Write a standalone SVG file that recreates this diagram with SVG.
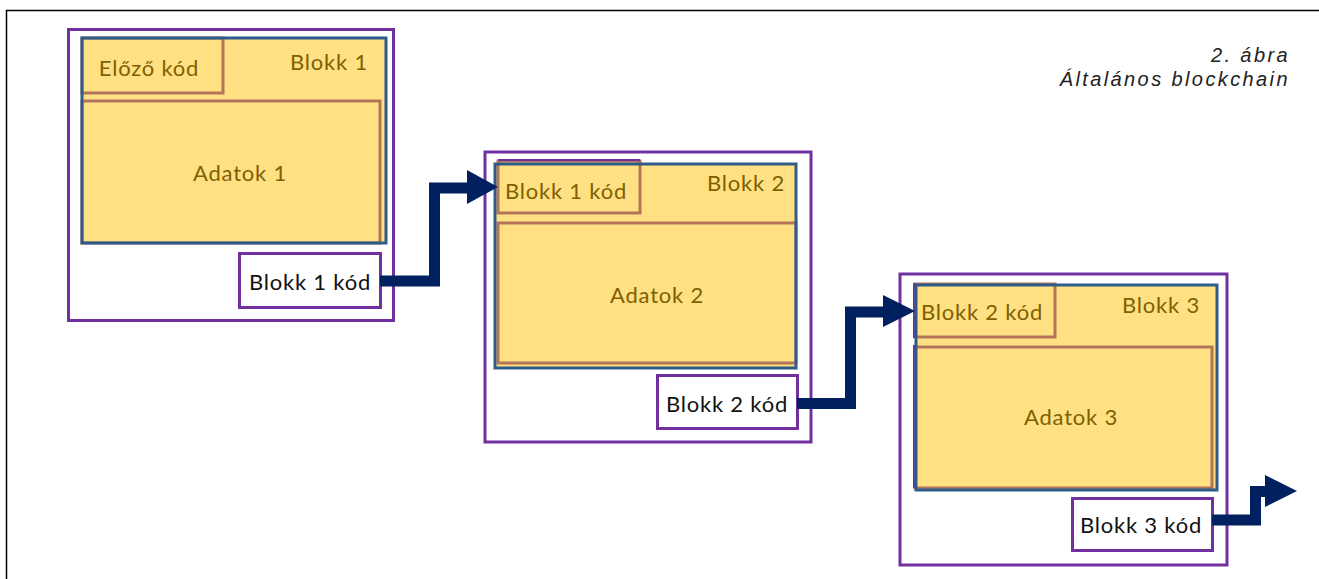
<svg xmlns="http://www.w3.org/2000/svg" width="1319" height="579" viewBox="0 0 1319 579">
<style>
.frame{fill:none;stroke:#000;stroke-width:1.5}
.outer{fill:#fff;stroke:#7030A0;stroke-width:3}
.blue{fill:#FFE083;stroke:none}
.blueline{fill:none;stroke:#2E5C8A;stroke-width:3}
.brown{fill:#FFE083;stroke:#B5745A;stroke-width:3}
.code{fill:#fff;stroke:#7030A0;stroke-width:3}
.t{font-family:Lato,"Open Sans",sans-serif;font-size:22px;letter-spacing:0.8px;fill:#7F6000}
.k{font-family:Lato,"Open Sans",sans-serif;font-size:22px;letter-spacing:0.8px;fill:#111}
.title{font-family:"Liberation Sans",Arial,sans-serif;font-style:italic;font-size:20px;fill:#222;letter-spacing:2.4px}
.conn{fill:none;stroke:#002060;stroke-width:11;stroke-linejoin:miter}
.head{fill:#002060}
</style>
<path class="frame" d="M6.5 579 V10.5 H1319"/>
<g id="title">
<text class="title" x="1290" y="62" text-anchor="end">2. ábra</text>
<text class="title" x="1290" y="86" text-anchor="end">Általános blockchain</text>
</g>
<g id="block1">
<rect class="outer" x="68.5" y="29.5" width="325" height="291"/>
<rect class="blue" x="82" y="38" width="304" height="205"/>
<rect class="brown" x="82" y="101" width="298" height="142"/>
<rect class="brown" x="82" y="38" width="141" height="55"/>
<rect class="blueline" x="82" y="38" width="304" height="205"/>
<text class="t" x="149" y="76" text-anchor="middle">Előző kód</text>
<text class="t" x="368" y="70" text-anchor="end">Blokk 1</text>
<text class="t" x="240" y="181" text-anchor="middle">Adatok 1</text>
</g>
<g id="code1">
<rect class="code" x="239.5" y="253.5" width="141" height="54"/>
<text class="k" x="310" y="290" text-anchor="middle">Blokk 1 kód</text>
</g>
<g id="block2">
<rect class="outer" x="485" y="152" width="326" height="290"/>
<rect class="blue" x="495" y="164" width="301" height="204"/>
<rect class="brown" x="498" y="223" width="298" height="140"/>
<rect class="brown" x="498" y="161" width="142" height="52"/>
<line x1="498" y1="160" x2="640" y2="160" stroke="#7030A0" stroke-width="2"/>
<rect class="blueline" x="495" y="164" width="301" height="204"/>
<text class="t" x="566" y="199" text-anchor="middle">Blokk 1 kód</text>
<text class="t" x="785" y="191" text-anchor="end">Blokk 2</text>
<text class="t" x="657" y="303" text-anchor="middle">Adatok 2</text>
</g>
<g id="code2">
<rect class="code" x="657.5" y="375.5" width="140" height="53"/>
<text class="k" x="727" y="412" text-anchor="middle">Blokk 2 kód</text>
</g>
<g id="block3">
<rect class="outer" x="900" y="274" width="327" height="291"/>
<rect class="blue" x="916" y="285" width="301" height="205"/>
<rect class="brown" x="915" y="347" width="297" height="141"/>
<rect class="brown" x="915" y="284" width="140" height="53"/>
<line x1="914" y1="283" x2="914" y2="338" stroke="#7030A0" stroke-width="2"/>
<line x1="914" y1="345" x2="914" y2="488" stroke="#7030A0" stroke-width="2"/>
<rect class="blueline" x="916" y="285" width="301" height="205"/>
<text class="t" x="982" y="320" text-anchor="middle">Blokk 2 kód</text>
<text class="t" x="1200" y="313" text-anchor="end">Blokk 3</text>
<text class="t" x="1071" y="425" text-anchor="middle">Adatok 3</text>
</g>
<g id="code3">
<rect class="code" x="1072.5" y="498.5" width="140" height="52"/>
<text class="k" x="1141" y="533" text-anchor="middle">Blokk 3 kód</text>
</g>
<g id="connectors">
<path class="conn" d="M380 281 H434.5 V188 H470"/>
<polygon class="head" points="467,170 498,187 467,204"/>
<path class="conn" d="M797 403.5 H850.5 V312 H886"/>
<polygon class="head" points="883,295 915,311 883,327"/>
<path class="conn" d="M1212 520 H1255.5 V491.5 H1268"/>
<polygon class="head" points="1265,475 1297,491 1265,507"/>
</g>
</svg>
